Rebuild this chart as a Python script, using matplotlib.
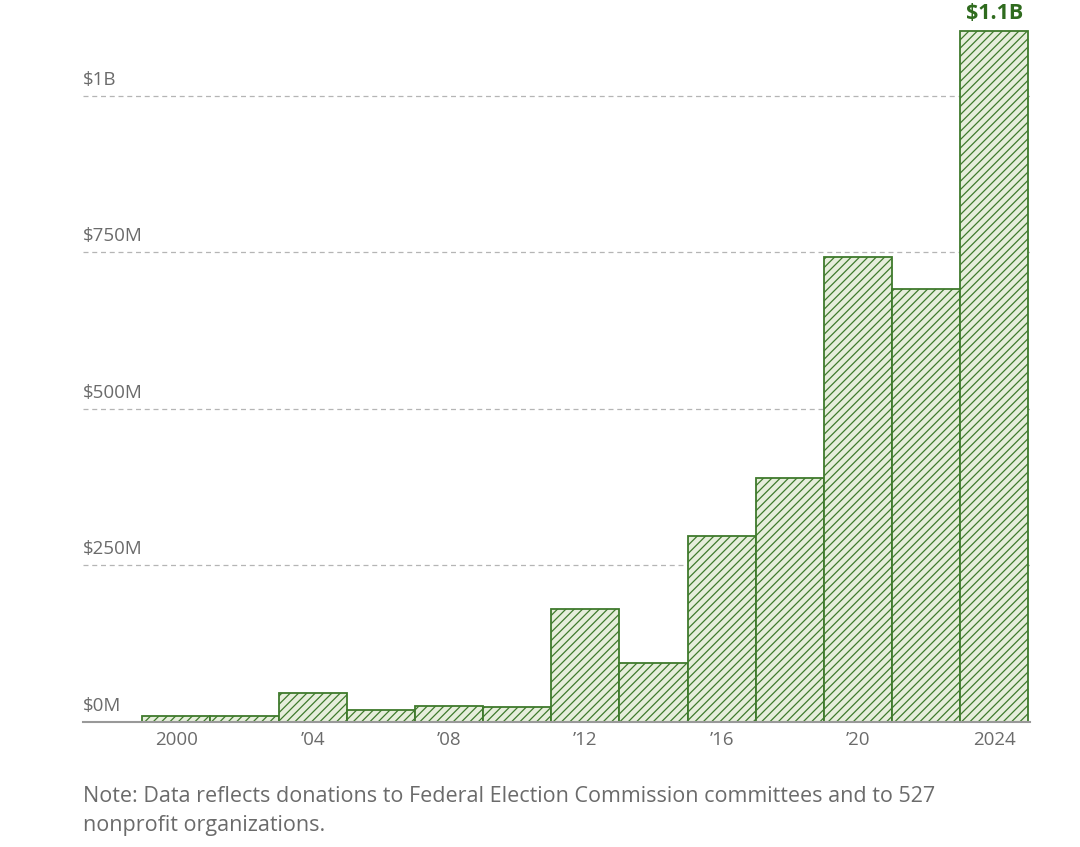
import numpy as np
import matplotlib
matplotlib.use("Agg")
import matplotlib.pyplot as plt

years = [2000, 2002, 2004, 2006, 2008, 2010, 2012, 2014, 2016, 2018, 2020, 2022, 2024]
donations = [8, 9, 46, 19, 24, 23, 179, 93, 296, 389, 742, 691, 1104]  # millions of dollars
tick_years = [2000, 2004, 2008, 2012, 2016, 2020, 2024]
tick_labels = ["2000", "\u201904", "\u201908", "\u201912", "\u201916", "\u201920", "2024"]
y_ticks = [0, 250, 500, 750, 1000]
y_labels = ["$0M", "$250M", "$500M", "$750M", "$1B"]
note = ("Note: Data reflects donations to Federal Election Commission committees and to 527\n"
        "nonprofit organizations.")

plt.rcParams["font.family"] = ["Open Sans", "DejaVu Sans"]
plt.rcParams["hatch.linewidth"] = 0.9

green = "#3f7a2c"
fill = "#e6eedb"
grey = "#6b6b6b"

fig = plt.figure(figsize=(10.8, 8.47), dpi=100)
ax = fig.add_axes([83 / 1080, (847 - 721.5) / 847, 947 / 1080, 721.5 / 847])

ax.bar(years, donations, width=2, color=fill, edgecolor=green, hatch="////",
       linewidth=1.3, zorder=3)

ax.set_xlim(1997.26, 2025.05)
ax.set_ylim(0, 1153)

# dashed gridlines with labels sitting above them
for v, lab in zip(y_ticks, y_labels):
    if v > 0:
        ax.axhline(v, color="#b5b5b5", linestyle=(0, (4, 3)), linewidth=0.9, zorder=1)
    ax.text(0.0, v + 11, lab, transform=ax.get_yaxis_transform(), ha="left",
            va="bottom", fontsize=13.5, color=grey)

ax.set_yticks([])
ax.set_xticks(tick_years)
ax.set_xticklabels(tick_labels, fontsize=13.5, color=grey)
ax.tick_params(axis="x", length=0, pad=7)

for s in ["top", "right", "left"]:
    ax.spines[s].set_visible(False)
ax.spines["bottom"].set_color("#999999")
ax.spines["bottom"].set_linewidth(1.5)
ax.spines["bottom"].set_zorder(4)

ax.text(years[-1], donations[-1] + 10, "$1.1B", ha="center", va="bottom",
        fontsize=15.5, fontweight="bold", color="#2f6b1e")

fig.text(83 / 1080, 1 - 836 / 847, note, ha="left", va="bottom", fontsize=15.5,
         color=grey, linespacing=1.5)

fig.savefig("out.png", dpi=100)
